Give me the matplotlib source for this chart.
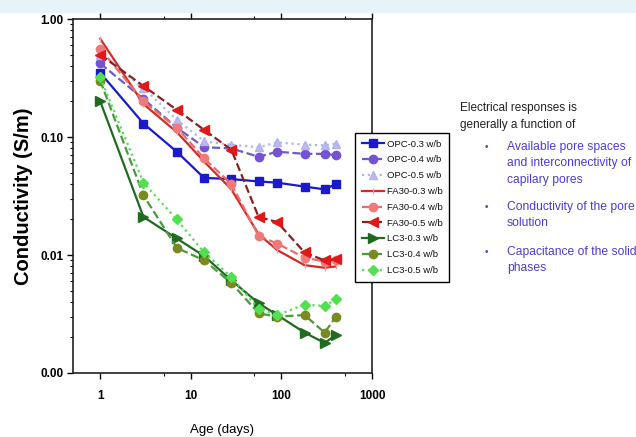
import matplotlib
matplotlib.use("Agg")
import matplotlib.pyplot as plt
from matplotlib.ticker import FixedLocator, FormatStrFormatter, NullFormatter, LogLocator
import numpy as np

plt.rcParams['font.family'] = ['Liberation Sans', 'DejaVu Sans']

# ages in days
age = [1, 3, 7, 14, 28, 56, 90, 180, 300, 400]

opc_03 = [0.35, 0.13, 0.075, 0.045, 0.044, 0.042, 0.041, 0.038, 0.036, 0.040]
opc_04 = [0.42, 0.21, 0.12, 0.082, 0.080, 0.068, 0.075, 0.072, 0.072, 0.070]
opc_05 = [0.50, 0.26, 0.14, 0.092, 0.086, 0.082, 0.090, 0.086, 0.085, 0.088]
fa30_03 = [0.68, 0.19, 0.11, 0.062, 0.036, 0.015, 0.011, 0.0082, 0.0078, 0.0080]
fa30_04 = [0.56, 0.20, 0.12, 0.066, 0.040, 0.0145, 0.0125, 0.0095, 0.0088, 0.0090]
fa30_05 = [0.50, 0.27, 0.17, 0.115, 0.078, 0.021, 0.019, 0.0105, 0.0090, 0.0092]
lc3_03 = [0.20, 0.021, 0.0138, 0.0098, 0.0061, 0.0039, 0.0031, 0.0022, 0.0018, 0.0021]
lc3_04 = [0.30, 0.032, 0.0115, 0.0090, 0.0058, 0.0032, 0.0030, 0.0031, 0.0022, 0.0030]
lc3_05 = [0.32, 0.041, 0.020, 0.0105, 0.0065, 0.0035, 0.0031, 0.0038, 0.0037, 0.0042]

labels = ['OPC-0.3 w/b', 'OPC-0.4 w/b', 'OPC-0.5 w/b',
          'FA30-0.3 w/b', 'FA30-0.4 w/b', 'FA30-0.5 w/b',
          'LC3-0.3 w/b', 'LC3-0.4 w/b', 'LC3-0.5 w/b']

y_ticks = [0.001, 0.01, 0.1, 1.0]
x_ticks = [1, 10, 100, 1000]

fig = plt.figure(figsize=(6.36, 4.37), dpi=100)

# slide header band
fig.patches.append(plt.Rectangle((0, 1 - 12 / 437), 1, 12 / 437, transform=fig.transFigure,
                                 color='#e6f3f9', zorder=0))

ax = fig.add_axes([73 / 636, 1 - 373 / 437, (372 - 73) / 636, (373 - 19) / 437])

styles = [
    dict(color='#1a1acc', ls='-', marker='s', mfc='#1a1acc', ms=6),
    dict(color='#6a5acd', ls='--', marker='o', mfc='#7b4fd6', ms=6),
    dict(color='#b0b4ee', ls=':', marker='^', mfc='#c0b8f0', ms=6),
    dict(color='#d42a2a', ls='-', marker='|', mfc='#f5a0a0', mec='#f5a0a0', ms=5),
    dict(color='#f06a6a', ls='--', marker='o', mfc='#f07a7a', mec='#f07a7a', ms=6),
    dict(color='#8b2020', ls='--', marker='<', mfc='#e01818', mec='#e01818', ms=7),
    dict(color='#1f6b1f', ls='-', marker='>', mfc='#1f6b1f', ms=7),
    dict(color='#4a9a3a', ls='--', marker='o', mfc='#7a8a20', mec='#7a8a20', ms=6),
    dict(color='#50e050', ls=':', marker='D', mfc='#50e050', mec='#50e050', ms=5),
]

series = [opc_03, opc_04, opc_05, fa30_03, fa30_04, fa30_05, lc3_03, lc3_04, lc3_05]
for vals, lab, st in zip(series, labels, styles):
    ax.plot(age, vals, label=lab, lw=1.6, **st)

ax.set_xscale('log')
ax.set_yscale('log')
ax.set_xlim(0.5, 1000)
ax.set_ylim(0.001, 1.0)

ax.yaxis.set_major_locator(FixedLocator(y_ticks))
ax.yaxis.set_major_formatter(FormatStrFormatter('%.2f'))
ax.yaxis.set_minor_locator(LogLocator(base=10, subs=np.arange(2, 10)))
ax.yaxis.set_minor_formatter(NullFormatter())
ax.xaxis.set_major_locator(FixedLocator(x_ticks))
ax.xaxis.set_major_formatter(FormatStrFormatter('%d'))
ax.xaxis.set_minor_locator(FixedLocator([5, 50, 500]))
ax.xaxis.set_minor_formatter(NullFormatter())

ax.tick_params(axis='both', which='major', direction='out', length=4, width=1,
               labelsize=8.5, pad=3)
ax.tick_params(axis='both', which='minor', direction='out', length=2.5, width=0.8)
ax.tick_params(axis='x', top=True, which='both', pad=8)
for t in ax.get_yticklabels() + ax.get_xticklabels():
    t.set_fontweight('bold')
for sp in ax.spines.values():
    sp.set_linewidth(1.2)
    sp.set_color('#222222')

ax.set_ylabel('Conductivity (S/m)', fontsize=14.5, fontweight='bold', labelpad=5)
ax.set_xlabel('Age (days)', fontsize=9.5, labelpad=16)

leg = fig.legend(loc='upper left', bbox_to_anchor=(355 / 636, 1 - 133 / 437),
                 fontsize=6.8, frameon=True, fancybox=False, edgecolor='black',
                 handlelength=2.4, handletextpad=0.3, labelspacing=0.72,
                 borderpad=0.7, borderaxespad=0)
leg.get_frame().set_linewidth(1.0)
leg.get_frame().set_alpha(1)
for t in leg.get_texts():
    t.set_color('#111111')

# slide notes on the right
fig.text(460 / 636, 1 - 108 / 437, 'Electrical responses is', fontsize=8.5,
         color='#222222', va='center')
fig.text(460 / 636, 1 - 125 / 437, 'generally a function of', fontsize=8.5,
         color='#222222', va='center')
blue = '#4b3fd0'
notes = [(147, '•', 'Available pore spaces'), (163, '', 'and interconnectivity of'),
         (180, '', 'capilary pores'), (207, '•', 'Conductivity of the pore'),
         (223, '', 'solution'), (252, '•', 'Capacitance of the solid'),
         (268, '', 'phases')]
for yy, b, txt in notes:
    if b:
        fig.text(485 / 636, 1 - yy / 437, b, fontsize=7, color=blue, va='center')
    fig.text(507 / 636, 1 - yy / 437, txt, fontsize=8.7, color=blue, va='center')

fig.savefig('out.png', dpi=100)
